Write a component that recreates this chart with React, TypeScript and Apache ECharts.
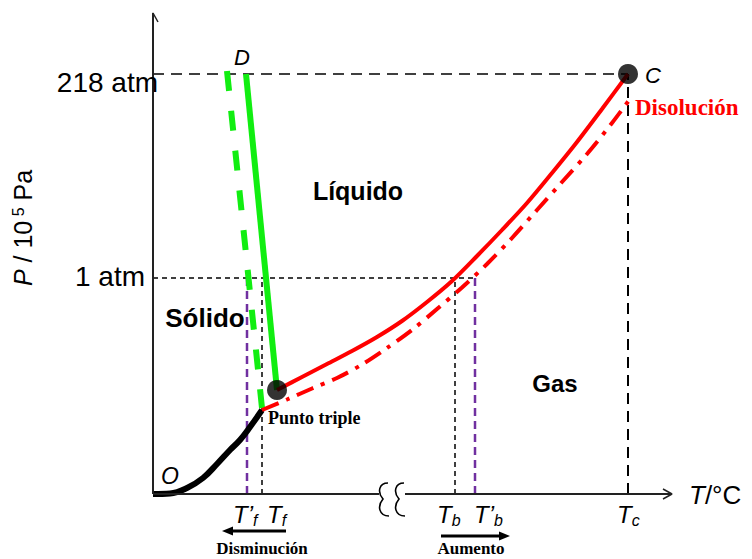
import React, { useEffect, useRef } from "react";
import * as echarts from "echarts";

// ---- Axis ranges (arbitrary temperature / pressure units of the sketch) ----
const T_MAX = 519;
const P_MAX = 483;

// Reference pressures
const P_CRITICAL = 420; // 218 atm
const P_ATM = 216; // 1 atm

// Reference temperatures
const T_F_PRIME = 94;
const T_F = 109;
const T_B = 302;
const T_B_PRIME = 322;
const T_C = 475;

// Tick labels
const yTickLabels = ["218 atm", "1 atm"];
const yTickValues = [P_CRITICAL, P_ATM];
const xTickMain = ["T\u2019", "T", "T", "T\u2019", "T"];
const xTickSub = ["f", "f", "b", "b", "c"];
const xTickValues = [T_F_PRIME, T_F, T_B, T_B_PRIME, T_C];

// Sublimation curve (solid - gas)
const sublimationT = [0, 17, 34, 50, 64, 77, 87, 97, 109];
const sublimationP = [0, 0.5, 6, 16, 30, 44, 54, 67, 84];

// Fusion curve, pure solvent and solution
const fusionT = [93, 124];
const fusionP = [420, 104];
const fusionSolT = [74, 109];
const fusionSolP = [423, 86];

// Vaporisation curve, pure solvent
const vaporT = [124, 149, 174, 199, 224, 249, 274, 299, 324, 349, 374, 399, 424, 449, 475];
const vaporP = [104, 117, 130, 143, 157, 173, 192, 213, 238, 264, 291, 321, 352, 385, 420];

// Vaporisation curve, solution ("Disolución")
const vaporSolT = [109, 134, 159, 184, 209, 234, 259, 284, 309, 334, 359, 384, 409, 434, 459, 477];
const vaporSolP = [84, 94.5, 105.5, 116, 129.5, 146, 164, 185, 206.5, 230, 256, 284, 312, 340, 371, 395];

// Special points
const triplePoint = [124, 104];
const criticalPoint = [T_C, P_CRITICAL];

const SANS = '"Liberation Sans", Arial, sans-serif';
const SERIF = '"Liberation Serif", "Times New Roman", serif';
const BREAK_PATH = "M11 0 C2 0 0 9 6 16 C0 23 2 33 12 33";

const pts = (xs: number[], ys: number[]) => xs.map((x, i) => [x, ys[i]]);

const lineSeries = (data: number[][], lineStyle: any, z: number, smooth: any = false) => ({
  type: "line",
  data,
  symbol: "none",
  showSymbol: false,
  smooth,
  clip: false,
  silent: true,
  z,
  lineStyle,
});

export default function App() {
  const ref = useRef<HTMLDivElement>(null);

  useEffect(() => {
    if (!ref.current) return;
    try {
      echarts.graphic.registerShape("axisBreakMark", echarts.graphic.extendPath(BREAK_PATH, {}) as any);
    } catch (e) {
      /* already registered */
    }
    const chart = echarts.init(ref.current, null, { renderer: "svg" });

    const black = "#000000";
    const axisCol = "#222222";
    const green = "#11ee11";
    const red = "#ff0000";
    const purple = "#7030a0";

    const option: any = {
      animation: false,
      backgroundColor: "#ffffff",
      grid: { left: 153, top: 11, width: 519, height: 483, containLabel: false },
      xAxis: { type: "value", min: 0, max: T_MAX, show: false },
      yAxis: { type: "value", min: 0, max: P_MAX, show: false },
      series: [
        // guide lines
        lineSeries([[0, P_CRITICAL], [T_C, P_CRITICAL]], { color: black, width: 1.5, type: [11, 7] }, 1),
        lineSeries([[T_C, 0], [T_C, P_CRITICAL]], { color: black, width: 2, type: [11, 7] }, 1),
        lineSeries([[0, P_ATM], [T_B_PRIME, P_ATM]], { color: black, width: 1.5, type: [5, 4] }, 1),
        lineSeries([[T_F, 0], [T_F, P_ATM]], { color: black, width: 1.5, type: [5, 4] }, 1),
        lineSeries([[T_B, 0], [T_B, P_ATM]], { color: black, width: 1.5, type: [5, 4] }, 1),
        lineSeries([[T_F_PRIME, 0], [T_F_PRIME, P_ATM]], { color: purple, width: 2.5, type: [8, 5] }, 2),
        lineSeries([[T_B_PRIME, 0], [T_B_PRIME, P_ATM]], { color: purple, width: 2.5, type: [8, 5] }, 2),
        // fusion curves
        lineSeries(pts(fusionSolT, fusionSolP), { color: green, width: 6, type: [20, 20] }, 3),
        lineSeries(pts(fusionT, fusionP), { color: green, width: 6, type: "solid" }, 4),
        // sublimation
        lineSeries(pts(sublimationT, sublimationP), { color: black, width: 6, type: "solid" }, 5, 0.4),
        // vaporisation
        lineSeries(pts(vaporSolT, vaporSolP), { color: red, width: 4, type: [18, 8, 4, 8] }, 5, 0.3),
        lineSeries(pts(vaporT, vaporP), { color: red, width: 4, type: "solid" }, 6, 0.3),
        // axes
        lineSeries([[0, 0], [0, 481]], { color: axisCol, width: 2 }, 8),
        lineSeries([[-5, 472], [0, 481], [5, 472]], { color: axisCol, width: 1.5 }, 8),
        lineSeries([[0, 0], [226, 0]], { color: axisCol, width: 2 }, 8),
        lineSeries([[252, 0], [T_MAX, 0]], { color: axisCol, width: 2 }, 8),
        lineSeries([[510, 5], [T_MAX, 0], [510, -5]], { color: axisCol, width: 1.5 }, 8),
        // points
        {
          type: "scatter",
          data: [triplePoint, criticalPoint],
          symbol: "circle",
          symbolSize: 20,
          itemStyle: { color: black },
          clip: false,
          silent: true,
          z: 10,
        },
      ],
    };
    chart.setOption(option);

    const px = (x: number, y: number) => chart.convertToPixel({ gridIndex: 0 }, [x, y]) as number[];

    const txt = (text: string, x: number, y: number, s: any = {}, extra: any = {}) => ({
      type: "text",
      x,
      y,
      z: 50,
      silent: true,
      ...extra,
      style: {
        text,
        fontFamily: SANS,
        fontSize: 24,
        fill: "#000",
        align: s.align || "center",
        textAlign: s.align || "center",
        verticalAlign: "middle",
        textVerticalAlign: "middle",
        ...s,
      },
    });

    const elements: any[] = [];

    // y tick labels
    const yShift = [[5, 8], [-8, -1.5]];
    yTickLabels.forEach((lab, i) => {
      const p = px(0, yTickValues[i]);
      elements.push(txt(lab, p[0] + yShift[i][0], p[1] + yShift[i][1], { fontSize: 28, align: "right" }));
    });

    // x tick labels
    const xShift = [-14, 5, -18, -1, -11];
    xTickMain.forEach((m, i) => {
      const p = px(xTickValues[i], 0);
      elements.push(
        txt(`{t|${m}}{s|${xTickSub[i]}}`, p[0] + xShift[i], p[1] + 20.5, {
          align: "left",
          rich: {
            t: { fontFamily: SANS, fontSize: 24, fontStyle: "italic", lineHeight: 24, verticalAlign: "top" },
            s: {
              fontFamily: SANS,
              fontSize: 16,
              fontStyle: "italic",
              lineHeight: 16,
              verticalAlign: "top",
              padding: [10, 0, 0, 0],
            },
          },
        })
      );
    });

    const o = px(0, 0);
    // axis titles
    elements.push(
      txt(`{p|P}{n| / 10}{u| 5}{n| Pa}`, o[0] - 130, 228, {
        rich: {
          p: { fontFamily: SANS, fontSize: 25, fontStyle: "italic", lineHeight: 25, verticalAlign: "top" },
          n: { fontFamily: SANS, fontSize: 25, lineHeight: 25, verticalAlign: "top" },
          u: { fontFamily: SANS, fontSize: 16, lineHeight: 16, verticalAlign: "top" },
        },
      }, { rotation: Math.PI / 2 })
    );
    elements.push(
      txt(`{i|T}{n|/°C}`, 689, 495, {
        align: "left",
        rich: {
          i: { fontFamily: SANS, fontSize: 26, fontStyle: "italic" },
          n: { fontFamily: SANS, fontSize: 26 },
        },
      })
    );

    // point letters
    const c = px(criticalPoint[0], criticalPoint[1]);
    elements.push(txt("D", 242, 57, { fontSize: 22, fontStyle: "italic" }));
    elements.push(txt("C", c[0] + 25, c[1] + 1, { fontSize: 22, fontStyle: "italic" }));
    elements.push(txt("O", o[0] + 17, o[1] - 18, { fontSize: 23, fontStyle: "italic" }));

    // region labels
    elements.push(txt("Líquido", 358, 191, { fontSize: 25, fontWeight: "bold" }));
    elements.push(txt("Sólido", 205, 318, { fontSize: 26, fontWeight: "bold" }));
    elements.push(txt("Gas", 555, 383, { fontSize: 24, fontWeight: "bold" }));

    // serif annotations
    elements.push(txt("Disolución", 635, 107, { fontFamily: SERIF, fontSize: 23, fontWeight: "bold", fill: red, align: "left" }));
    elements.push(txt("Punto triple", 268, 418, { fontFamily: SERIF, fontSize: 18, fontWeight: "bold", align: "left" }));
    elements.push(txt("Disminución", 262, 548, { fontFamily: SERIF, fontSize: 17, fontWeight: "bold" }));
    elements.push(txt("Aumento", 471, 548, { fontFamily: SERIF, fontSize: 17, fontWeight: "bold" }));

    // arrows under the temperature labels
    elements.push({ type: "line", z: 50, shape: { x1: 286, y1: 531, x2: 231, y2: 531 }, style: { stroke: "#000", lineWidth: 3 } });
    elements.push({ type: "polygon", z: 50, shape: { points: [[222, 531], [233, 526.5], [233, 535.5]] }, style: { fill: "#000" } });
    elements.push({ type: "line", z: 50, shape: { x1: 441, y1: 536, x2: 500, y2: 536 }, style: { stroke: "#000", lineWidth: 3 } });
    elements.push({ type: "polygon", z: 50, shape: { points: [[510, 536], [499, 531.5], [499, 540.5]] }, style: { fill: "#000" } });

    // axis break marks
    const b1 = px(224, 0);
    const b2 = px(240, 0);
    [b1, b2].forEach((b) => {
      elements.push({
        type: "axisBreakMark",
        x: b[0],
        y: b[1] - 11,
        z: 50,
        style: { fill: "none", stroke: "#000", lineWidth: 1.6 },
      });
    });

    chart.setOption({ graphic: { elements } });

    return () => chart.dispose();
  }, []);

  return <div ref={ref} style={{ position: "absolute", left: 0, top: 0, width: 752, height: 559 }} />;
}
